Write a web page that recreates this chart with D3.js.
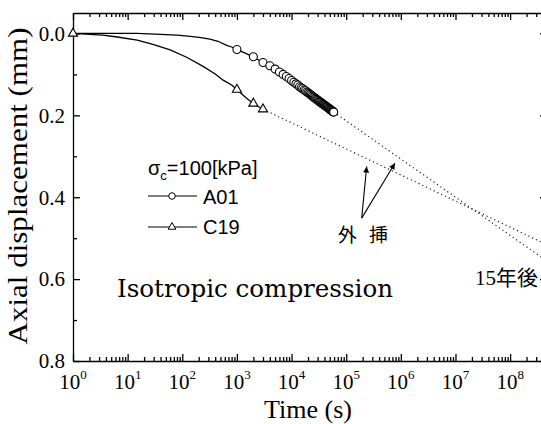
<!DOCTYPE html>
<html>
<head>
<meta charset="utf-8">
<script src="https://cdn.jsdelivr.net/npm/d3@7"></script>
<style>
  body { margin: 0; background: #fff; }
</style>
</head>
<body>
<svg id="chart"></svg>
<script>
// A01 measured trace (time s, axial displacement mm); markers from 1000 s on
const a01Time = [1, 5, 15, 40, 80, 140, 220, 320, 450, 650, 800,
    1000, 2000, 3000, 4000, 5000, 6000, 7000, 8000, 9000, 10000,
    11000, 12000, 13000, 14000, 15000, 16000, 17000, 18000, 19000, 20000,
    21000, 22000, 23000, 24000, 25000, 26000, 27000, 28000, 29000, 30000,
    31000, 32000, 33000, 34000, 35000, 36000, 37000, 38000, 39000, 40000,
    41000, 42000, 43000, 44000, 45000, 46000, 47000, 48000, 49000, 50000,
    51000, 52000, 53000, 54000, 55000, 56000, 57000, 58000, 59000];
const a01Disp = [0.000, 0.000, 0.000, 0.002, 0.004, 0.007, 0.010, 0.014, 0.019, 0.029, 0.033,
    0.039, 0.057, 0.071, 0.079, 0.087, 0.094, 0.100, 0.105, 0.110, 0.115,
    0.119, 0.123, 0.126, 0.130, 0.133, 0.135, 0.138, 0.140, 0.143, 0.145,
    0.147, 0.149, 0.151, 0.153, 0.155, 0.157, 0.158, 0.160, 0.161, 0.163,
    0.164, 0.166, 0.167, 0.168, 0.169, 0.171, 0.172, 0.173, 0.174, 0.175,
    0.176, 0.177, 0.178, 0.179, 0.180, 0.181, 0.182, 0.183, 0.184, 0.185,
    0.186, 0.187, 0.187, 0.188, 0.189, 0.190, 0.191, 0.191, 0.192];
const a01MarkerFrom = 1000;

// C19 measured trace
const c19Time = [1, 2, 3.5, 6, 15, 30, 60, 120, 245, 400, 560, 800, 1000, 1500, 2000, 2500, 3000];
const c19Disp = [0.000, 0.002, 0.004, 0.008, 0.016, 0.027, 0.040, 0.058, 0.081, 0.099, 0.114, 0.126, 0.137, 0.158, 0.171, 0.179, 0.185];
const c19Markers = [1, 1000, 2000, 3000];

// extrapolations (外挿) out to 15 years
const a01ExtTime = [59000, 4.73e8];
const a01ExtDisp = [0.192, 0.556];
const c19ExtTime = [3000, 4.73e8];
const c19ExtDisp = [0.185, 0.516];

// ticks
const xDecades = [0, 1, 2, 3, 4, 5, 6, 7, 8];
const yTicks = [0, 0.2, 0.4, 0.6, 0.8];
const yMinor = [0.1, 0.3, 0.5, 0.7];

// SVG setup

const W = 541, H = 424;
const plot = { left: 73, right: 547, top: 13, bottom: 361 };

const svg = d3.select("#chart")
    .attr("width", W)
    .attr("height", H);

svg.append("rect")
    .attr("width", W)
    .attr("height", H)
    .attr("fill", "#fff");

// Scales

const x = d3.scaleLog()
    .domain([1, 4.73e8])
    .range([plot.left, plot.right]);

const y = d3.scaleLinear()
    .domain([-0.05, 0.8])
    .range([plot.top, plot.bottom]);

const serif = "'Liberation Serif', 'Times New Roman', serif";
const sans = "'Liberation Sans', Arial, sans-serif";
const cjk = "'Noto Sans CJK JP', sans-serif";

// Axes (ticks point inward)

const xMajor = xDecades.map(k => Math.pow(10, k));
const xMinor = [];
xDecades.forEach(k => {
    for (let m = 2; m <= 9; m++) {
        const v = m * Math.pow(10, k);
        if (v < 4.73e8) xMinor.push(v);
    }
});

function styleAxis(g) {
    g.selectAll("path, line").attr("stroke", "#000").attr("stroke-width", 1.3);
    g.selectAll("text").remove();
}

function axisPair(axisFn, scale, transform, major, minor) {
    svg.append("g").attr("transform", transform)
        .call(axisFn(scale).tickValues(major).tickSizeInner(-7).tickSizeOuter(0).tickFormat(""))
        .call(styleAxis);
    svg.append("g").attr("transform", transform)
        .call(axisFn(scale).tickValues(minor).tickSizeInner(-4).tickSizeOuter(0).tickFormat(""))
        .call(styleAxis)
        .select(".domain").remove();
}

axisPair(d3.axisBottom, x, `translate(0,${plot.bottom})`, xMajor, xMinor);
axisPair(d3.axisTop, x, `translate(0,${plot.top})`, xMajor, xMinor);
axisPair(d3.axisLeft, y, `translate(${plot.left},0)`, yTicks, yMinor);
axisPair(d3.axisRight, y, `translate(${plot.right},0)`, yTicks, yMinor);

// Tick labels

xDecades.forEach(k => {
    const t = svg.append("text")
        .attr("x", x(Math.pow(10, k)))
        .attr("y", 389)
        .attr("text-anchor", "middle")
        .style("font-family", serif)
        .style("font-size", "21px")
        .attr("fill", "#000");
    t.append("tspan").text("10");
    t.append("tspan").attr("dy", -10).style("font-size", "13px").text(k);
});

yTicks.forEach(v => {
    svg.append("text")
        .attr("x", plot.left - 8)
        .attr("y", y(v))
        .attr("dy", "0.35em")
        .attr("text-anchor", "end")
        .style("font-family", serif)
        .style("font-size", "21px")
        .text(v.toFixed(1));
});

// Axis titles

svg.append("text")
    .attr("transform", "translate(27,186) rotate(-90)")
    .attr("text-anchor", "middle")
    .attr("textLength", 317)
    .attr("lengthAdjust", "spacingAndGlyphs")
    .style("font-family", serif)
    .style("font-size", "27px")
    .text("Axial displacement (mm)");

svg.append("text")
    .attr("x", 308)
    .attr("y", 418)
    .attr("text-anchor", "middle")
    .style("font-family", serif)
    .style("font-size", "26px")
    .text("Time (s)");

// Lines

const line = d3.line()
    .x(d => x(d[0]))
    .y(d => y(d[1]));

const a01 = a01Time.map((t, i) => [t, a01Disp[i]]);
const c19 = c19Time.map((t, i) => [t, c19Disp[i]]);
const a01Ext = a01ExtTime.map((t, i) => [t, a01ExtDisp[i]]);
const c19Ext = c19ExtTime.map((t, i) => [t, c19ExtDisp[i]]);

[a01Ext, c19Ext].forEach(d => {
    svg.append("path")
        .datum(d)
        .attr("fill", "none")
        .attr("stroke", "#222")
        .attr("stroke-width", 1.2)
        .attr("stroke-dasharray", "1.2,3")
        .attr("d", line);
});

[a01, c19].forEach(d => {
    svg.append("path")
        .datum(d)
        .attr("fill", "none")
        .attr("stroke", "#000")
        .attr("stroke-width", 1.3)
        .attr("d", line);
});

// Markers

const triangle = d3.symbol().type(d3.symbolTriangle).size(36);

svg.selectAll(".a01-pt")
    .data(a01.filter(d => d[0] >= a01MarkerFrom))
    .join("circle")
    .attr("class", "a01-pt")
    .attr("cx", d => x(d[0]))
    .attr("cy", d => y(d[1]))
    .attr("r", 4)
    .attr("fill", "#fff")
    .attr("stroke", "#000")
    .attr("stroke-width", 1.1);

svg.selectAll(".c19-pt")
    .data(c19.filter(d => c19Markers.includes(d[0])))
    .join("path")
    .attr("class", "c19-pt")
    .attr("transform", d => `translate(${x(d[0])},${y(d[1])})`)
    .attr("d", triangle)
    .attr("fill", "#fff")
    .attr("stroke", "#000")
    .attr("stroke-width", 1.1);

// Legend

const legend = svg.append("g")
    .style("font-family", sans)
    .style("font-size", "20px");

const head = legend.append("text").attr("x", 148).attr("y", 175);
head.append("tspan").text("σ");
head.append("tspan").attr("dy", 5).style("font-size", "13px").text("c");
head.append("tspan").attr("dy", -5).text("=100[kPa]");

[{ name: "A01", ly: 196, ty: 204 }, { name: "C19", ly: 227, ty: 234 }].forEach(d => {
    legend.append("line")
        .attr("x1", 148).attr("x2", 197)
        .attr("y1", d.ly).attr("y2", d.ly)
        .attr("stroke", "#000")
        .attr("stroke-width", 1.2);
    if (d.name === "A01") {
        legend.append("circle")
            .attr("cx", 172).attr("cy", d.ly).attr("r", 3.3)
            .attr("fill", "#fff").attr("stroke", "#000").attr("stroke-width", 1);
    } else {
        legend.append("path")
            .attr("transform", `translate(172,${d.ly})`)
            .attr("d", d3.symbol().type(d3.symbolTriangle).size(26))
            .attr("fill", "#fff").attr("stroke", "#000").attr("stroke-width", 1);
    }
    legend.append("text")
        .attr("x", 203)
        .attr("y", d.ty)
        .text(d.name);
});

// Annotations

svg.append("text")
    .attr("x", 117)
    .attr("y", 297)
    .attr("textLength", 276)
    .attr("lengthAdjust", "spacingAndGlyphs")
    .style("font-family", "'DejaVu Serif', serif")
    .style("font-size", "24px")
    .text("Isotropic compression");

svg.append("defs").append("marker")
    .attr("id", "head")
    .attr("viewBox", "0 0 10 10")
    .attr("refX", 10)
    .attr("refY", 5)
    .attr("markerUnits", "userSpaceOnUse")
    .attr("markerWidth", 9)
    .attr("markerHeight", 6)
    .attr("orient", "auto")
    .append("path")
    .attr("d", "M0,0L10,5L0,10z")
    .attr("fill", "#000");

const arrowBase = [1.92e5, 0.451];
const arrowTips = [[2.37e5, 0.325], [7.8e5, 0.317]];

arrowTips.forEach(tip => {
    svg.append("line")
        .attr("x1", x(arrowBase[0])).attr("y1", y(arrowBase[1]))
        .attr("x2", x(tip[0])).attr("y2", y(tip[1]))
        .attr("stroke", "#000")
        .attr("stroke-width", 1.1)
        .attr("marker-end", "url(#head)");
});

svg.append("text")
    .attr("x", 338)
    .attr("y", 242)
    .style("font-family", cjk)
    .style("font-size", "19px")
    .style("letter-spacing", "12px")
    .text("外挿");

const late = svg.append("text")
    .attr("x", 475)
    .attr("y", 285)
    .style("font-size", "21px");
late.append("tspan").style("font-family", serif).text("15");
late.append("tspan").style("font-family", cjk).text("年後");
</script>
</body>
</html>
